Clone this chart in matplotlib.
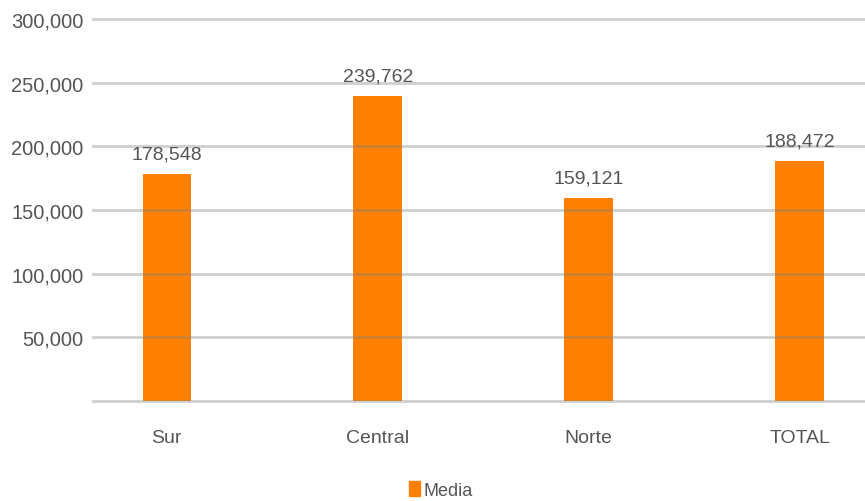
import matplotlib
matplotlib.use("Agg")
import matplotlib.pyplot as plt
from matplotlib import font_manager
from matplotlib.patches import Patch

categories = ["Sur", "Central", "Norte", "TOTAL"]
values = [178548, 239762, 159121, 188472]
yticks = [50000, 100000, 150000, 200000, 250000, 300000]
series_name = "Media"

names = {f.name for f in font_manager.fontManager.ttflist}
fam = ["Liberation Sans Narrow", "Liberation Sans", "DejaVu Sans"]
fam = [f for f in fam if f in names] or ["DejaVu Sans"]
plt.rcParams["font.family"] = fam

fig = plt.figure(figsize=(8.65, 5.02), dpi=100)
ax = fig.add_axes([93/865, 1-402/502, (865-93)/865, (402-20)/502])
orange = "#FF8000"
txt = "#555555"
x = list(range(len(categories)))
ax.bar(x, values, width=0.23, color=orange, zorder=2)
for yv in [0] + yticks:
    ax.axhline(yv, color="#808080", alpha=0.38, lw=2, zorder=3, clip_on=False)
for xi, v in zip(x, values):
    ax.text(xi, v + 9000, f"{v:,}", ha="center", va="bottom", fontsize=14, color=txt)
ax.set_xlim(-0.35, 3.31)
ax.set_ylim(0, 300000)
ax.set_yticks(yticks)
ax.set_yticklabels([f"{t:,}" for t in yticks], fontsize=14.5, color=txt)
ax.set_xticks(x)
ax.set_xticklabels(categories, fontsize=14, color=txt)
ax.tick_params(axis="both", length=0)
ax.tick_params(axis="y", pad=7)
ax.tick_params(axis="x", pad=20)
for s in ax.spines.values():
    s.set_visible(False)
fig.legend(handles=[Patch(color=orange)], labels=[series_name], loc="center",
           bbox_to_anchor=(441/865, 1-491/502), frameon=False, fontsize=13,
           handlelength=0.6, handleheight=0.9, handletextpad=0.2, labelcolor=txt)
fig.savefig("out.png", dpi=100)
